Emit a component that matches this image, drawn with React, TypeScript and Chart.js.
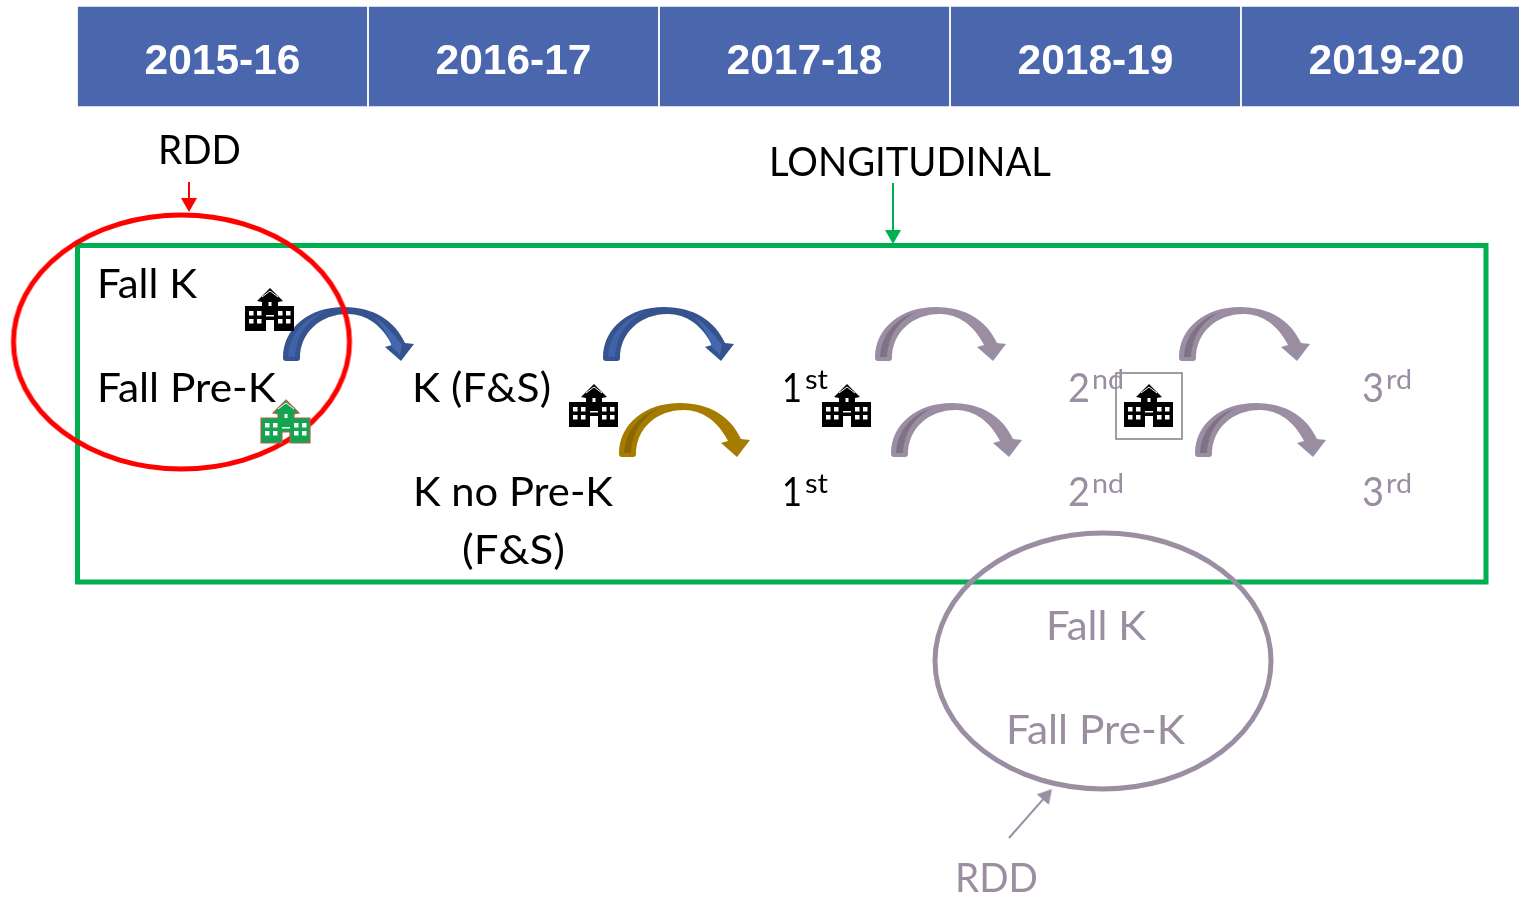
import React, { useEffect, useRef } from "react";
import { Chart, registerables } from "chart.js";

Chart.register(...registerables);

const yearLabels = ["2015-16", "2016-17", "2017-18", "2018-19", "2019-20"];
const yearCentres = [222.5, 513.5, 804.5, 1095.5, 1386.5];
const yearBand = [7, 106];

const blueArrows = [{ x: 348, y: 334 }, { x: 668, y: 334 }];
const goldArrows = [{ x: 684, y: 430 }];
const greyArrows = [
  { x: 940, y: 334 }, { x: 956, y: 430 },
  { x: 1244, y: 334 }, { x: 1260, y: 430 },
];
const blackSchools = [{ x: 270, y: 310 }, { x: 594, y: 406 }, { x: 847, y: 406 }, { x: 1149, y: 406 }];
const greenSchools = [{ x: 286, y: 422 }];
const redEllipse = [{ x: 181.5, y: 342 }];
const greyEllipse = [{ x: 1103, y: 661 }];
const greenFrame = [
  { x: 77.5, y: 245.5 }, { x: 1486, y: 245.5 }, { x: 1486, y: 582 }, { x: 77.5, y: 582 }, { x: 77.5, y: 245.5 },
];
const iconFrame = [
  { x: 1116, y: 373 }, { x: 1182, y: 373 }, { x: 1182, y: 439 }, { x: 1116, y: 439 }, { x: 1116, y: 373 },
];
const redPointer = [{ x: 189, y: 182 }, { x: 189, y: 205 }];
const greenPointer = [{ x: 893, y: 183 }, { x: 893, y: 237 }];
const greyPointer = [{ x: 1009, y: 838 }, { x: 1047.4, y: 794.3 }];

const BLACK = "#000000";
const MAUVE = "#9B8EA3";

const labelTexts = [
  "RDD", "LONGITUDINAL", "Fall K", "Fall Pre-K", "K (F&S)", "K no Pre-K", "(F&S)",
  "1", "1", "2", "2", "3", "3",
  "Fall K", "Fall Pre-K", "RDD",
];
const labelX = [158, 769, 97, 97, 412, 413, 462, 782, 782, 1068, 1068, 1362, 1362, 1046, 1006, 955];
const labelY = [164, 176, 298, 402, 402, 506, 564, 402, 506, 402, 506, 402, 506, 640, 744, 892];
const labelFit = [83, 282, 100, 179, 139, 200, 103, 20, 20, 22, 22, 22, 22, 100, 179, 83];
const labelColors = [
  BLACK, BLACK, BLACK, BLACK, BLACK, BLACK, BLACK, BLACK, BLACK,
  MAUVE, MAUVE, MAUVE, MAUVE, MAUVE, MAUVE, MAUVE,
];

const superTexts = ["st", "st", "nd", "nd", "rd", "rd"];
const superX = [805, 805, 1092, 1092, 1386, 1386];
const superY = [389, 493, 389, 493, 389, 493];
const superFit = [23, 23, 32, 32, 26, 26];
const superColors = [BLACK, BLACK, MAUVE, MAUVE, MAUVE, MAUVE];

function makeCanvas(w: number, h: number, draw: (c: CanvasRenderingContext2D) => void) {
  const cv = document.createElement("canvas");
  cv.width = w;
  cv.height = h;
  draw(cv.getContext("2d") as CanvasRenderingContext2D);
  return cv;
}

function arrowIcon(body: string, shade: string, headShade: string | null) {
  return makeCanvas(132, 54, (c) => {
    c.fillStyle = body;
    c.beginPath();
    c.moveTo(1, 51);
    c.bezierCurveTo(1, 20, 28, 0, 62, 0);
    c.bezierCurveTo(92, 0, 113, 14, 123, 36);
    c.lineTo(132, 37);
    c.lineTo(119, 54);
    c.lineTo(103, 40);
    c.lineTo(110, 38);
    c.bezierCurveTo(100, 18, 84, 7, 66, 7);
    c.bezierCurveTo(38, 7, 18, 26, 18, 51);
    c.quadraticCurveTo(18, 54, 15, 54);
    c.lineTo(4, 54);
    c.quadraticCurveTo(1, 54, 1, 51);
    c.closePath();
    c.fill();
    c.fillStyle = shade;
    c.beginPath();
    c.moveTo(6, 50);
    c.bezierCurveTo(7, 30, 20, 12, 42, 5);
    c.bezierCurveTo(24, 14, 14, 30, 13, 50);
    c.closePath();
    c.fill();
    if (headShade) {
      c.fillStyle = headShade;
      c.beginPath();
      c.moveTo(92, 10);
      c.bezierCurveTo(104, 18, 112, 28, 120, 38);
      c.lineTo(118, 48);
      c.lineTo(110, 40);
      c.bezierCurveTo(106, 28, 100, 18, 92, 10);
      c.closePath();
      c.fill();
    }
  });
}

function schoolIcon(fill: string, edge: string | null) {
  return makeCanvas(52, 46, (c) => {
    c.translate(1, 1);
    c.beginPath();
    c.moveTo(25, 0);
    c.lineTo(38, 13);
    c.lineTo(33, 14);
    c.lineTo(33, 18);
    c.lineTo(49, 18);
    c.lineTo(49, 43);
    c.lineTo(29, 43);
    c.lineTo(29, 32);
    c.lineTo(21, 32);
    c.lineTo(21, 43);
    c.lineTo(0, 43);
    c.lineTo(0, 18);
    c.lineTo(17, 18);
    c.lineTo(17, 14);
    c.lineTo(12, 13);
    c.closePath();
    c.fillStyle = fill;
    c.fill();
    if (edge) {
      c.strokeStyle = edge;
      c.lineWidth = 1.2;
      c.stroke();
    }
    c.fillStyle = "#ffffff";
    for (const col of [4, 12, 33, 41]) {
      for (const row of [23, 31]) c.fillRect(col, row, 4.5, 4.5);
    }
    c.fillRect(21, 27, 8, 1.5);
    c.fillRect(23.5, 14, 3, 4);
    c.strokeStyle = "#ffffff";
    c.lineWidth = 1;
    c.beginPath();
    c.moveTo(17, 9);
    c.lineTo(25, 3);
    c.lineTo(33, 9);
    c.stroke();
  });
}

function ellipseIcon(colour: string, rx: number, ry: number) {
  return makeCanvas(rx * 2 + 8, ry * 2 + 8, (c) => {
    c.strokeStyle = colour;
    c.lineWidth = 5;
    c.beginPath();
    c.ellipse(rx + 4, ry + 4, rx, ry, 0, 0, Math.PI * 2);
    c.stroke();
  });
}

function headIcon(colour: string) {
  return makeCanvas(16, 14, (c) => {
    c.fillStyle = colour;
    c.beginPath();
    c.moveTo(8, 0);
    c.lineTo(16, 14);
    c.lineTo(0, 14);
    c.closePath();
    c.fill();
  });
}

const textPlugin = {
  id: "diagramText",
  afterDatasetsDraw(chart: any) {
    const { ctx, scales } = chart;
    const x = scales.x;
    const y = scales.y;
    const fitted = (t: string, px: number, py: number, fit: number) => {
      const natural = ctx.measureText(t).width;
      ctx.save();
      ctx.translate(px, py);
      ctx.scale(fit / natural, 1);
      ctx.fillText(t, 0, 0);
      ctx.restore();
    };
    ctx.save();
    ctx.textBaseline = "alphabetic";
    ctx.textAlign = "left";
    ctx.font = "40px Lato";
    labelTexts.forEach((t, i) => {
      ctx.fillStyle = labelColors[i];
      fitted(t, x.getPixelForValue(labelX[i]), y.getPixelForValue(labelY[i]), labelFit[i]);
    });
    ctx.font = "27px Lato";
    superTexts.forEach((t, i) => {
      ctx.fillStyle = superColors[i];
      fitted(t, x.getPixelForValue(superX[i]), y.getPixelForValue(superY[i]), superFit[i]);
    });
    ctx.textAlign = "center";
    ctx.textBaseline = "middle";
    ctx.font = 'bold 42.5px "Liberation Sans"';
    ctx.fillStyle = "#ffffff";
    yearLabels.forEach((t, i) => {
      ctx.fillText(t, x.getPixelForValue(yearCentres[i]), y.getPixelForValue(62));
    });
    ctx.restore();
  },
};

export default function App() {
  const ref = useRef<HTMLCanvasElement>(null);
  useEffect(() => {
    document.body.style.margin = "0";
    document.body.style.background = "#ffffff";
    const pointer = (data: any[], colour: string, rotation: number) => ({
      type: "line",
      data,
      borderColor: colour,
      borderWidth: 2,
      pointRadius: [0, 1],
      pointStyle: headIcon(colour),
      pointRotation: rotation,
      pointBorderWidth: 0,
      clip: false,
      order: 3,
    });
    const frame = (data: any[], colour: string, width: number, order: number) => ({
      type: "line",
      data,
      borderColor: colour,
      borderWidth: width,
      pointRadius: 0,
      fill: false,
      tension: 0,
      borderJoinStyle: "miter",
      borderCapStyle: "square",
      clip: false,
      order,
    });
    const icons = (data: any[], style: HTMLCanvasElement, order: number) => ({
      type: "scatter",
      data,
      pointStyle: style,
      pointRadius: 1,
      pointBorderWidth: 0,
      clip: false,
      order,
    });
    const chart = new Chart(ref.current as HTMLCanvasElement, {
      type: "bar",
      data: {
        datasets: [
          {
            type: "bar",
            data: yearCentres.map((c) => ({ x: c, y: yearBand })),
            backgroundColor: "#4A67AD",
            barThickness: 288.5,
            clip: false,
            order: 10,
          },
          icons(blueArrows, arrowIcon("#35548F", "#3F62A8", "#4468B0"), 9),
          icons(goldArrows, arrowIcon("#A67C00", "#8C6900", null), 9),
          icons(greyArrows, arrowIcon(MAUVE, "#7E7287", null), 9),
          frame(greenFrame, "#00B050", 5, 7),
          icons(redEllipse, ellipseIcon("#FF0000", 168, 127), 6),
          icons(greyEllipse, ellipseIcon(MAUVE, 168, 128), 6),
          frame(iconFrame, "#7F7F7F", 1.5, 5),
          icons(blackSchools, schoolIcon("#000000", null), 4),
          icons(greenSchools, schoolIcon("#12A44E", "#B0654E"), 4),
          pointer(redPointer, "#FF0000", 180),
          pointer(greenPointer, "#00B050", 180),
          pointer(greyPointer, MAUVE, 41),
        ] as any,
      },
      options: {
        responsive: false,
        animation: false,
        events: [],
        layout: { padding: 0, autoPadding: false },
        plugins: { legend: { display: false }, tooltip: { enabled: false } },
        scales: {
          x: { type: "linear", display: false, min: 0, max: 1519, offset: false, grid: { offset: false } },
          y: { type: "linear", display: false, min: 0, max: 897, reverse: true, offset: false },
        },
      } as any,
      plugins: [textPlugin],
    });
    return () => chart.destroy();
  }, []);
  return (
    <div style={{ position: "absolute", left: 0, top: 0, width: 1519, height: 897 }}>
      <canvas ref={ref} width={1519} height={897} style={{ display: "block" }} />
    </div>
  );
}
